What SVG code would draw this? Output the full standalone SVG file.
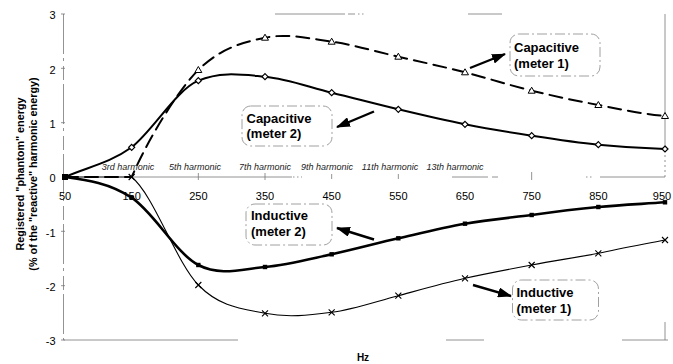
<svg xmlns="http://www.w3.org/2000/svg" xmlns:xlink="http://www.w3.org/1999/xlink" width="673" height="364" viewBox="0 0 673 364">
<style>
  text { font-family: "Liberation Sans", Arial, sans-serif; fill: #000; }
  .tick { font-size: 11px; }
  .ylab { text-anchor: end; }
  .xlab { text-anchor: middle; }
  .harm { font-size: 9px; font-style: italic; fill: #222; }
  .title { font-size: 10.8px; font-weight: bold; text-anchor: middle; }
  .box { fill: none; stroke: #888; stroke-width: 0.8; stroke-dasharray: 10 3 2 3; }
  .boxt { font-size: 13px; font-weight: bold; }
  .grid { stroke: #777; stroke-width: 0.8; fill: none; }
  .ser { fill: none; stroke: #000; stroke-linecap: round; stroke-linejoin: round; }
  .arrow { stroke: #000; stroke-width: 2.4; fill: none; marker-end: url(#ah); }
</style>
<defs>
  <marker id="ah" markerUnits="userSpaceOnUse" markerWidth="14" markerHeight="10" refX="13" refY="5" orient="auto">
    <path d="M0,0 L14,5 L0,10 z" fill="#000"/>
  </marker>
  <path id="tri" d="M0,-3.5 L3.5,2.5 L-3.5,2.5 z" fill="#fff" stroke="#000" stroke-width="1"/>
  <path id="dia" d="M0,-3 L3,0 L0,3 L-3,0 z" fill="#fff" stroke="#000" stroke-width="1.2"/>
  <rect id="sq" x="-2.2" y="-2.2" width="4.4" height="4.4" fill="#000"/>
  <path id="xx" d="M-3,-3 L3,3 M-3,3 L3,-3" stroke="#000" stroke-width="1.1" fill="none"/>
</defs>
<rect width="673" height="364" fill="#fff"/>

<g id="axes">
  <!-- left axis -->
  <path class="grid" d="M63.5,14 V340" stroke-dasharray="40 4 3 5 14 4"/>
  <!-- right axis -->
  <path class="grid" d="M665,14 V150"/>
  <path class="grid" d="M665,150 V178" stroke-dasharray="2 3"/>
  <path class="grid" d="M665,322 V340"/>
  <!-- top fragments -->
  <path class="grid" d="M275,14 H345 M348,14 H355 M468,14 H502"/>
  <path class="grid" d="M358,14 H366" stroke-dasharray="1.5 2.5"/>
  <!-- bottom fragments -->
  <path class="grid" d="M63.5,340 H238 M446,340 H484 M622,340 H668"/>
  <!-- zero line fragments -->
  <path class="grid" d="M131.67,177 H292 M452,177 H488 M492,177 H498 M600,177 H665"/>
  <path class="grid" d="M293,177 H302 M586,177 H592" stroke-dasharray="1.5 2.5"/>
  <!-- zero line ticks -->
  <path class="grid" d="M198.33,173 V180 M265,173 V180 M331.67,174 V179 M398.33,174 V179 M531.67,172 V180"/>
  <!-- y ticks -->
  <path class="grid" d="M61,14 H65 M61,68.3 H65 M61,122.7 H65 M61,231.3 H65 M61,285.7 H65 M61,340 H65"/>
  <!-- y tick labels -->
  <text class="tick ylab" x="55.5" y="19">3</text>
  <text class="tick ylab" x="55.5" y="73.5">2</text>
  <text class="tick ylab" x="55.5" y="128">1</text>
  <text class="tick ylab" x="55.5" y="182">0</text>
  <text class="tick ylab" x="55.5" y="236.5">-1</text>
  <text class="tick ylab" x="55.5" y="291">-2</text>
  <text class="tick ylab" x="55.5" y="345">-3</text>
  <!-- x tick labels -->
  <text class="tick xlab" x="65" y="200">50</text>
  <text class="tick xlab" x="131.67" y="200">150</text>
  <text class="tick xlab" x="198.33" y="200">250</text>
  <text class="tick xlab" x="265" y="200">350</text>
  <text class="tick xlab" x="331.67" y="200">450</text>
  <text class="tick xlab" x="398.33" y="200">550</text>
  <text class="tick xlab" x="465" y="200">650</text>
  <text class="tick xlab" x="531.67" y="200">750</text>
  <text class="tick xlab" x="598.33" y="200">850</text>
  <text class="tick xlab" x="662" y="200">950</text>
  <!-- harmonic labels -->
  <text class="harm xlab" x="128" y="169.5">3rd harmonic</text>
  <text class="harm xlab" x="195" y="169.5">5th harmonic</text>
  <text class="harm xlab" x="265" y="169.5">7th harmonic</text>
  <text class="harm xlab" x="327" y="169.5">9th harmonic</text>
  <text class="harm xlab" x="390" y="169.5">11th harmonic</text>
  <text class="harm xlab" x="455" y="169.5">13th harmonic</text>
  <!-- axis titles -->
  <text class="title" transform="translate(24,174) rotate(-90)">Registered "phantom" energy</text>
  <text class="title" transform="translate(37,174) rotate(-90)">(% of the "reactive" harmonic energy)</text>
  <text class="title" x="363" y="361" style="font-size:10px">Hz</text>
</g>

<g id="series">
  <!-- Capacitive meter 1 (dashed, triangles) -->
  <path id="cap1" class="ser" stroke-width="2" stroke-dasharray="13 7" d="M65,177 L131.67,177 C150,135 180,88 198.33,70 C220.5,48 242.8,42.4 265,37.7 C287.2,33 309.45,38.5 331.67,41.7 C353.9,44.9 376.1,51.6 398.33,56.7 C420.5,61.8 442.8,66.6 465,72.3 C487.2,78 509.4,85.2 531.67,90.7 C553.9,96.1 576.1,100.8 598.33,105 C620.5,109.2 642.8,114.2 665,116"/>
  <!-- Capacitive meter 2 (solid, diamonds) -->
  <path id="cap2" class="ser" stroke-width="2" d="M65,177 C87.2,167.1 109.45,163.35 131.67,147.3 C153.9,129.5 176.1,90 198.33,80.7 C220.5,71 242.8,74.7 265,76.7 C287.2,78.7 309.45,87.3 331.67,92.7 C353.9,98.1 376.1,104 398.33,109.3 C420.5,114.6 442.8,119.9 465,124.3 C487.2,128.7 509.4,132.3 531.67,135.7 C553.9,139.1 576.1,142.5 598.33,144.7 C620.5,146.9 642.8,148.3 665,149"/>
  <!-- Inductive meter 2 (thick, squares) -->
  <path id="ind2" class="ser" stroke-width="2.6" d="M65,177 C87.2,180 109.45,183 131.67,197.7 C153.9,212.4 176.1,253.45 198.33,265 C220.5,276.6 242.8,268.8 265,267 C287.2,265.2 309.45,259.1 331.67,254.3 C353.9,249.5 376.1,243.4 398.33,238.3 C420.5,233.2 442.8,227.6 465,223.7 C487.2,219.9 509.4,217.8 531.67,215 C553.9,211.9 576.1,209.1 598.33,207 C620.5,204.9 642.8,203.9 665,202.3"/>
  <!-- Inductive meter 1 (thin, crosses) -->
  <path id="ind1" class="ser" stroke-width="1.1" d="M65,177 L131.67,177 C153.9,195 176.1,262.3 198.33,285 C220.5,307.7 242.8,308.75 265,313.3 C287.2,317.9 309.45,315.2 331.67,312.3 C353.9,309.4 376.1,301.4 398.33,295.7 C420.5,289.7 442.8,283.4 465,278.3 C487.2,273.4 509.4,269.2 531.67,265 C553.9,260.8 576.1,257.5 598.33,253.3 C620.5,248.4 642.8,244.4 665,240"/>
  <!-- markers -->
  <g id="tris">
    <use href="#tri" x="198.33" y="70"/><use href="#tri" x="265" y="37.7"/><use href="#tri" x="331.67" y="41.7"/>
    <use href="#tri" x="398.33" y="56.7"/><use href="#tri" x="465" y="72.3"/><use href="#tri" x="531.67" y="90.7"/>
    <use href="#tri" x="598.33" y="105"/><use href="#tri" x="665" y="116"/>
  </g>
  <g id="dias">
    <use href="#dia" x="131.67" y="147.3"/><use href="#dia" x="198.33" y="80.7"/><use href="#dia" x="265" y="76.7"/>
    <use href="#dia" x="331.67" y="92.7"/><use href="#dia" x="398.33" y="109.3"/><use href="#dia" x="465" y="124.3"/>
    <use href="#dia" x="531.67" y="135.7"/><use href="#dia" x="598.33" y="144.7"/><use href="#dia" x="665" y="149"/>
  </g>
  <g id="sqs">
    <rect x="62" y="174" width="6" height="6" fill="#000"/>
    <use href="#sq" x="131.67" y="197.7"/><use href="#sq" x="198.33" y="265"/><use href="#sq" x="265" y="267"/>
    <use href="#sq" x="331.67" y="254.3"/><use href="#sq" x="398.33" y="238.3"/><use href="#sq" x="465" y="223.7"/>
    <use href="#sq" x="531.67" y="215"/><use href="#sq" x="598.33" y="207"/><use href="#sq" x="665" y="202.3"/>
  </g>
  <g id="xs">
    <use href="#xx" x="131.67" y="177"/><use href="#xx" x="198.33" y="285"/><use href="#xx" x="265" y="313.3"/>
    <use href="#xx" x="331.67" y="312.3"/><use href="#xx" x="398.33" y="295.7"/><use href="#xx" x="465" y="278.3"/>
    <use href="#xx" x="531.67" y="265"/><use href="#xx" x="598.33" y="253.3"/><use href="#xx" x="665" y="240"/>
  </g>
</g>

<g id="label-cap1">
  <rect class="box" x="510" y="34" width="90" height="42" rx="9"/>
  <text class="boxt" x="514" y="52">Capacitive</text>
  <text class="boxt" x="514" y="68">(meter 1)</text>
</g>
<g id="label-cap2">
  <rect class="box" x="242" y="106" width="90" height="40" rx="9"/>
  <text class="boxt" x="246.5" y="122.5">Capacitive</text>
  <text class="boxt" x="246.5" y="138">(meter 2)</text>
</g>
<g id="label-ind2">
  <rect class="box" x="246" y="204" width="86" height="41" rx="9"/>
  <text class="boxt" x="251" y="220">Inductive</text>
  <text class="boxt" x="251" y="236">(meter 2)</text>
</g>
<g id="label-ind1">
  <rect class="box" x="512.5" y="280" width="86" height="40" rx="9"/>
  <text class="boxt" x="516.5" y="296.5">Inductive</text>
  <text class="boxt" x="516.5" y="313">(meter 1)</text>
</g>

<g id="connectors">
  <line class="arrow" x1="470" y1="68" x2="505" y2="54"/>
  <line class="arrow" x1="374" y1="111.5" x2="337" y2="127"/>
  <line class="arrow" x1="374" y1="239.5" x2="337" y2="228"/>
  <line class="arrow" x1="473" y1="285" x2="511" y2="296"/>
</g>
</svg>
